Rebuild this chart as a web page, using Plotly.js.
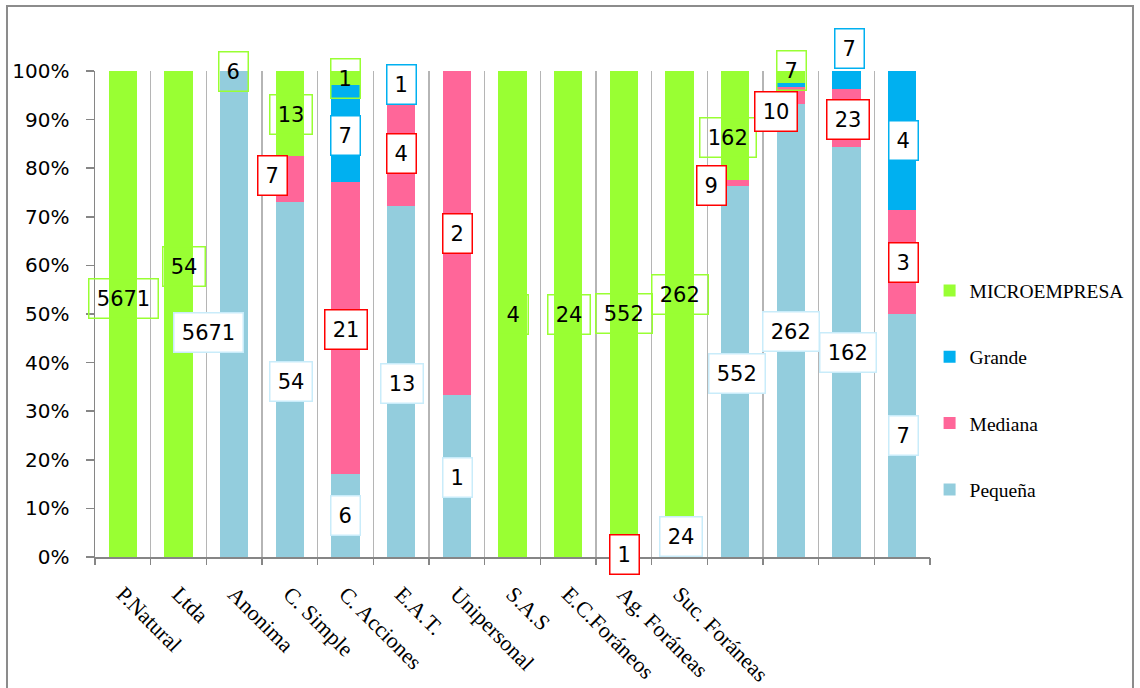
<!DOCTYPE html>
<html>
<head>
<meta charset="utf-8">
<script src="https://cdn.plot.ly/plotly-3.0.1.min.js"></script>
<style>
  html, body { margin: 0; padding: 0; background: #ffffff; }
  #chart { width: 1140px; height: 688px; }
</style>
</head>
<body>
<div id="chart"></div>
<script>
// ---------------- data ----------------
const barPositions = [1, 2, 3, 4, 5, 6, 7, 8, 9, 10, 11, 12, 13, 14, 15];
const tickLabels = ['P.Natural', 'Ltda', 'Anonima', 'C. Simple', 'C. Acciones', 'E.A.T.',
                    'Unipersonal', 'S.A.S', 'E.C.Foráneos', 'Ag. Foráneas', 'Suc. Foráneas'];

const pequena = [0, 0, 6, 54, 6, 13, 1, 0, 0, 0, 24, 552, 262, 162, 7];
const mediana = [0, 0, 0, 7, 21, 4, 2, 0, 0, 1, 0, 9, 10, 23, 3];
const grande  = [0, 0, 0, 0, 7, 1, 0, 0, 0, 0, 0, 0, 2, 7, 4];
const micro   = [5671, 54, 0, 13, 1, 0, 0, 4, 24, 552, 262, 162, 7, 0, 0];

const seriesNames = ['Pequeña', 'Mediana', 'Grande', 'MICROEMPRESA'];
const legendRanks = [4, 3, 2, 1];

// data label texts (as printed on the chart)
const microLabelText   = ['5671', '54', '6', '13', '1', '4', '24', '552', '262', '162', '7'];
const grandeLabelText  = ['7', '1', '7', '4'];
const medianaLabelText = ['7', '21', '4', '2', '1', '9', '10', '23', '3'];
const pequenaLabelText = ['5671', '54', '6', '13', '1', '24', '552', '262', '162', '7'];

// ---------------- label placement: [x in bar units, y as fraction of axis] ----------------
const microLabelPos = [[1.017,0.531],[2.093,0.597],[2.992,0.998],[4.021,0.910],[5.004,0.984],
                       [8.021,0.498],[9.006,0.498],[10.008,0.502],[11.014,0.540],[11.877,0.864],[13.008,1.002]];
const grandeLabelPos = [[5.005,0.868],[6.010,0.972],[14.054,1.047],[15.029,0.856]];
const medianaLabelPos = [[3.680,0.786],[5.005,0.469],[6.010,0.831],[7.017,0.665],[10.015,0.0056],
                         [11.571,0.765],[12.742,0.917],[14.018,0.901],[15.020,0.605]];
const pequenaLabelPos = [[2.530,0.461],[4.021,0.3615],[5.000,0.0844],[6.015,0.358],[7.017,0.1626],
                         [11.018,0.0412],[12.027,0.378],[13.008,0.463],[14.018,0.420],[15.029,0.249]];

const colors = { 'Pequeña': '#93CDDD', 'Mediana': '#FF6699', 'Grande': '#00B0F0', 'MICROEMPRESA': '#99FF33' };
const labelStyle = {
  'MICROEMPRESA': { border: '#99FF33', bg: 'rgba(0,0,0,0)' },
  'Grande':       { border: '#00B0F0', bg: '#ffffff' },
  'Mediana':      { border: '#FF0000', bg: '#ffffff' },
  'Pequeña':      { border: '#C9ECFA', bg: '#ffffff' }
};

const seriesValues = [pequena, mediana, grande, micro];

const traces = seriesNames.map((name, i) => ({
  type: 'bar',
  name: name,
  x: barPositions,
  y: seriesValues[i],
  width: 0.51,
  legendgroup: name,
  legendrank: legendRanks[i],
  marker: { color: colors[name], line: { width: 0 } },
  hoverinfo: 'skip'
}));
// helper trace for the boundary axis (grid + ticks)
traces.push({ type: 'scatter', x: [], y: [], xaxis: 'x2', showlegend: false, hoverinfo: 'skip' });

function makeLabels(texts, pos, series) {
  const st = labelStyle[series];
  return texts.map((t, i) => ({
    xref: 'x', yref: 'paper',
    x: pos[i][0], y: pos[i][1],
    text: t, showarrow: false,
    xanchor: 'center', yanchor: 'middle',
    width: 14 + 13.5 * t.length, height: 38,
    borderpad: 0, borderwidth: 1.5,
    bordercolor: st.border, bgcolor: st.bg,
    font: { family: 'DejaVu Sans', size: 21, color: '#000000' }
  }));
}

const annotations = []
  .concat(makeLabels(microLabelText, microLabelPos, 'MICROEMPRESA'))
  .concat(makeLabels(pequenaLabelText, pequenaLabelPos, 'Pequeña'))
  .concat(makeLabels(grandeLabelText, grandeLabelPos, 'Grande'))
  .concat(makeLabels(medianaLabelText, medianaLabelPos, 'Mediana'));

const boundaries = [];
for (let i = 0; i <= barPositions.length; i++) boundaries.push(i + 0.5);

const layout = {
  width: 1140, height: 688,
  margin: { l: 95, r: 210, t: 71, b: 131, autoexpand: false },
  paper_bgcolor: '#ffffff', plot_bgcolor: '#ffffff',
  barmode: 'stack', barnorm: 'fraction',
  showlegend: true,
  legend: {
    x: 0.9995, xanchor: 'left', y: 0.588, yanchor: 'top',
    traceorder: 'grouped', tracegroupgap: 38,
    font: { family: 'Liberation Serif', size: 19.5, color: '#000000' },
    bgcolor: 'rgba(0,0,0,0)'
  },
  xaxis: {
    range: [0.5, 15.5], type: 'linear',
    tickvals: barPositions.slice(0, tickLabels.length), ticktext: tickLabels,
    tickangle: 45, ticks: '', showgrid: false, zeroline: false,
    ticklabelstandoff: 14,
    tickfont: { family: 'Liberation Serif', size: 22, color: '#000000' },
    showline: true, linecolor: '#868686', linewidth: 1.5
  },
  xaxis2: {
    overlaying: 'x', range: [0.5, 15.5], type: 'linear',
    tickvals: boundaries, showticklabels: false,
    ticks: 'outside', ticklen: 7, tickcolor: '#868686', tickwidth: 1.5,
    showgrid: true, gridcolor: '#B5B5B5', gridwidth: 1.5, zeroline: false,
    showline: false
  },
  yaxis: {
    range: [0, 1], tickvals: [0,0.1,0.2,0.3,0.4,0.5,0.6,0.7,0.8,0.9,1], tickformat: '.0%',
    ticks: 'outside', ticklen: 8, tickcolor: '#868686', tickwidth: 1.5,
    showline: true, linecolor: '#868686', linewidth: 1.5,
    showgrid: false, zeroline: false, ticklabelstandoff: 12,
    tickfont: { family: 'DejaVu Sans', size: 20, color: '#000000' }
  },
  annotations: annotations,
  shapes: [{
    type: 'rect', xref: 'paper', yref: 'paper',
    x0: -0.1054, x1: 1.2431, y0: -0.30, y1: 1.1337,
    line: { color: '#8C8C8C', width: 2 }, fillcolor: 'rgba(0,0,0,0)', layer: 'above'
  }]
};

Plotly.newPlot('chart', traces, layout, { displayModeBar: false, staticPlot: true });
</script>
</body>
</html>
